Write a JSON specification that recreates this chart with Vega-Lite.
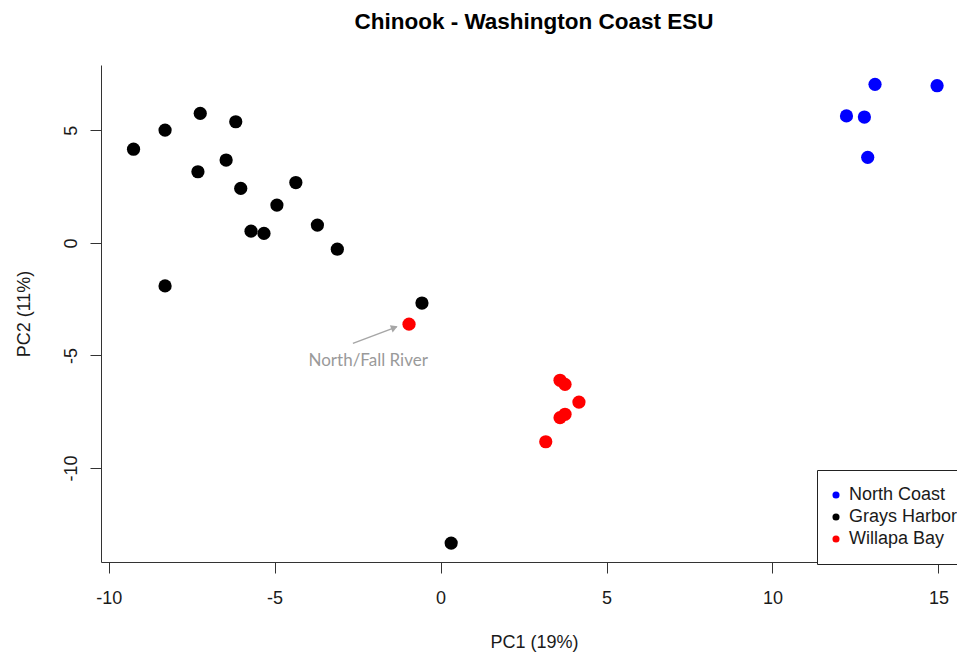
{
  "$schema": "https://vega.github.io/schema/vega-lite/v6.json",
  "width": 856,
  "height": 497,
  "autosize": "none",
  "padding": {"left": 101, "top": 65, "right": 0, "bottom": 90},
  "background": "white",
  "config": {"view": {"stroke": null}, "font": "Liberation Sans"},
  "title": {"text": "Chinook - Washington Coast ESU", "fontSize": 22.5, "font": "Liberation Sans", "fontWeight": "bold", "color": "black", "anchor": "middle", "offset": 32, "dx": 5},
  "datasets": {
    "pts": [
      {"pc1": 13.09, "pc2": 7.04, "region": "North Coast"},
      {"pc1": 14.96, "pc2": 6.98, "region": "North Coast"},
      {"pc1": 12.23, "pc2": 5.64, "region": "North Coast"},
      {"pc1": 12.77, "pc2": 5.59, "region": "North Coast"},
      {"pc1": 12.87, "pc2": 3.80, "region": "North Coast"},
      {"pc1": -9.25, "pc2": 4.16, "region": "Grays Harbor"},
      {"pc1": -8.30, "pc2": 5.01, "region": "Grays Harbor"},
      {"pc1": -7.24, "pc2": 5.75, "region": "Grays Harbor"},
      {"pc1": -6.17, "pc2": 5.38, "region": "Grays Harbor"},
      {"pc1": -7.31, "pc2": 3.16, "region": "Grays Harbor"},
      {"pc1": -6.46, "pc2": 3.68, "region": "Grays Harbor"},
      {"pc1": -6.02, "pc2": 2.42, "region": "Grays Harbor"},
      {"pc1": -4.36, "pc2": 2.68, "region": "Grays Harbor"},
      {"pc1": -4.93, "pc2": 1.68, "region": "Grays Harbor"},
      {"pc1": -5.71, "pc2": 0.52, "region": "Grays Harbor"},
      {"pc1": -5.32, "pc2": 0.42, "region": "Grays Harbor"},
      {"pc1": -3.71, "pc2": 0.79, "region": "Grays Harbor"},
      {"pc1": -3.11, "pc2": -0.28, "region": "Grays Harbor"},
      {"pc1": -8.30, "pc2": -1.91, "region": "Grays Harbor"},
      {"pc1": -0.56, "pc2": -2.67, "region": "Grays Harbor"},
      {"pc1": 0.32, "pc2": -13.33, "region": "Grays Harbor"},
      {"pc1": -0.95, "pc2": -3.61, "region": "Willapa Bay"},
      {"pc1": 3.60, "pc2": -6.10, "region": "Willapa Bay"},
      {"pc1": 3.75, "pc2": -6.28, "region": "Willapa Bay"},
      {"pc1": 4.17, "pc2": -7.07, "region": "Willapa Bay"},
      {"pc1": 3.75, "pc2": -7.61, "region": "Willapa Bay"},
      {"pc1": 3.60, "pc2": -7.76, "region": "Willapa Bay"},
      {"pc1": 3.17, "pc2": -8.83, "region": "Willapa Bay"}
    ],
    "arrow": [{"x": -2.64, "y": -4.46, "x2": -1.32, "y2": -3.73}],
    "head": [{"x": -1.39, "y": -3.76}],
    "label": [{"x": -2.18, "y": -5.26, "text": "North/Fall River"}]
  },
  "layer": [
    {
      "mark": {"type": "rule", "color": "#333333", "strokeWidth": 1},
      "encoding": {"y": {"datum": 7.9}}
    },
    {
      "data": {"name": "arrow"},
      "mark": {"type": "rule", "color": "#a6a6a6", "strokeWidth": 1.5},
      "encoding": {
        "x": {"field": "x", "type": "quantitative"},
        "y": {"field": "y", "type": "quantitative"},
        "x2": {"field": "x2"},
        "y2": {"field": "y2"}
      }
    },
    {
      "data": {"name": "head"},
      "mark": {"type": "point", "shape": "triangle-right", "filled": true, "color": "#a6a6a6", "size": 60, "angle": -21, "opacity": 1},
      "encoding": {
        "x": {"field": "x", "type": "quantitative"},
        "y": {"field": "y", "type": "quantitative"}
      }
    },
    {
      "data": {"name": "label"},
      "mark": {"type": "text", "font": "Lato", "fontSize": 17, "color": "#9a9a9a", "align": "center", "baseline": "middle"},
      "encoding": {
        "x": {"field": "x", "type": "quantitative"},
        "y": {"field": "y", "type": "quantitative"},
        "text": {"field": "text"}
      }
    },
    {
      "data": {"name": "pts"},
      "mark": {"type": "circle", "size": 175, "opacity": 1},
      "encoding": {
        "x": {
          "field": "pc1", "type": "quantitative",
          "scale": {"domain": [-10.23, 15.56], "nice": false, "zero": false},
          "axis": {
            "values": [-10, -5, 0, 5, 10, 15], "grid": false, "domainColor": "#333333", "tickColor": "#333333",
            "tickSize": 11, "labelPadding": 16, "labelFontSize": 18, "labelColor": "#1a1a1a", "labelFont": "Liberation Sans",
            "labelFlush": false, "labelOverlap": false, "labelExpr": "'' + datum.value",
            "title": "PC1 (19%)", "titleFontSize": 18, "titleFontWeight": "normal", "titleColor": "#1a1a1a", "titleFont": "Liberation Sans",
            "titleX": 433, "titlePadding": 26
          }
        },
        "y": {
          "field": "pc2", "type": "quantitative",
          "scale": {"domain": [-14.17, 7.9], "nice": false, "zero": false},
          "axis": {
            "values": [-10, -5, 0, 5], "grid": false, "domainColor": "#333333", "tickColor": "#333333",
            "tickSize": 11, "labelPadding": 14, "labelFontSize": 18, "labelColor": "#1a1a1a", "labelFont": "Liberation Sans",
            "labelAngle": 270, "labelAlign": "center", "labelBaseline": "alphabetic", "labelFlush": false, "labelOverlap": false,
            "labelExpr": "'' + datum.value",
            "title": "PC2 (11%)", "titleFontSize": 18, "titleFontWeight": "normal", "titleColor": "#1a1a1a", "titleFont": "Liberation Sans",
            "titlePadding": 29
          }
        },
        "color": {
          "field": "region", "type": "nominal",
          "scale": {"domain": ["North Coast", "Grays Harbor", "Willapa Bay"], "range": ["#0000FF", "#000000", "#FF0000"]},
          "legend": {
            "orient": "none", "legendX": 716, "legendY": 405, "title": null,
            "strokeColor": "#222222", "fillColor": "white", "padding": 16, "cornerRadius": 0,
            "labelFontSize": 18, "labelColor": "#1a1a1a", "labelFont": "Liberation Sans",
            "symbolSize": 50, "symbolType": "circle", "symbolStrokeWidth": 0, "symbolOpacity": 1,
            "symbolOffset": -6, "rowPadding": 4, "labelOffset": 4
          }
        }
      }
    }
  ]
}
